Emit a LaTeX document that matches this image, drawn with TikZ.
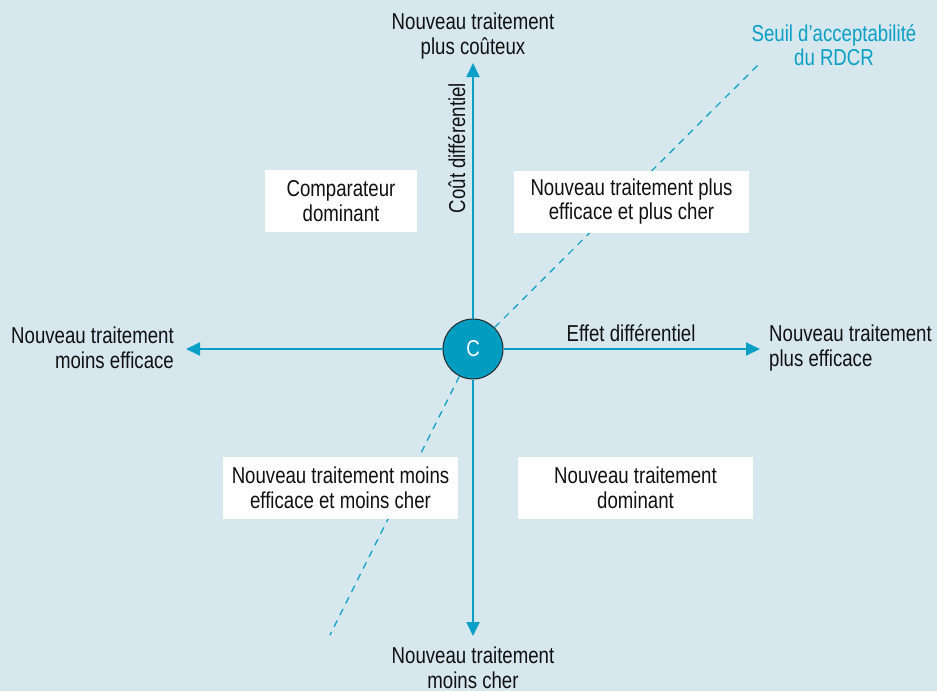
\documentclass[tikz,border=0pt]{standalone}
\usepackage{fontspec}
\setmainfont[FakeStretch=0.81]{Liberation Sans}
\usetikzlibrary{arrows.meta}
\definecolor{bgblue}{RGB}{214,231,238}
\definecolor{axisblue}{RGB}{10,160,198}
\definecolor{discblue}{RGB}{0,157,193}
\definecolor{labeltext}{RGB}{17,17,17}
\begin{document}
\begin{tikzpicture}[x=1pt,y=-1pt,
  bigfont/.style={font=\fontsize{23}{24.5}\selectfont},
  axis/.style={draw=axisblue,line width=2pt,-{Triangle[length=14pt,width=13pt]}},
  threshold/.style={draw=axisblue,line width=1.2pt,dash pattern=on 7pt off 6pt},
  quadrant/.style={bigfont,fill=white,inner sep=0pt,minimum height=62pt,align=center,text=labeltext},
  endlabel/.style={bigfont,inner sep=0pt,text=labeltext},
  origin/.style={circle,draw=black!85,line width=1pt,fill=discblue,minimum size=60pt,inner sep=0pt,text=white,bigfont}
]
% canvas
\fill[bgblue] (0,0) rectangle (937,691);
\useasboundingbox (0,0) rectangle (937,691);

% origin disc
\node[origin] (C) at (473,349) {C};

% arrow ends and threshold ends
\coordinate (up)    at (473,63);
\coordinate (down)  at (473,636);
\coordinate (left)  at (186,349);
\coordinate (right) at (760,349);
\coordinate (thrhi) at (760,63);
\coordinate (thrlo) at (330,635);

% axes
\draw[axis] (C) -- (up);
\draw[axis] (C) -- (down);
\draw[axis] (C) -- (left);
\draw[axis] (C) -- (right);

% acceptability threshold
\draw[threshold] (C) -- (thrhi);
\draw[threshold] (C) -- (thrlo);

% quadrant labels
\node[quadrant,minimum width=152pt] (q1) at (341,201) {Comparateur\\dominant};
\node[quadrant,minimum width=235pt] (q2) at (631.5,201.5) {Nouveau traitement plus\\efficace et plus cher};
\node[quadrant,minimum width=235pt] (q3) at (340.5,488) {Nouveau traitement moins\\efficace et moins cher};
\node[quadrant,minimum width=235pt] (q4) at (635.5,488) {Nouveau traitement\\dominant};

% axis end labels
\node[endlabel,align=center] (tl) at (473,36) {Nouveau traitement\\plus coûteux};
\node[endlabel,align=center] (bl) at (473,668) {Nouveau traitement\\moins cher};
\node[endlabel,align=right,anchor=east] (ll) at (174,348) {Nouveau traitement\\moins efficace};
\node[endlabel,align=left,anchor=west] (rl) at (769,348) {Nouveau traitement\\plus efficace};

% axis titles
\node[endlabel,anchor=base] (ex) at (631,341) {Effet différentiel};
\node[endlabel,anchor=base,rotate=90] (ey) at (465,148) {Coût différentiel};

% threshold caption
\node[endlabel,align=center,text=axisblue] (th) at (834,45) {Seuil d’acceptabilité\\du RDCR};
\end{tikzpicture}
\end{document}
